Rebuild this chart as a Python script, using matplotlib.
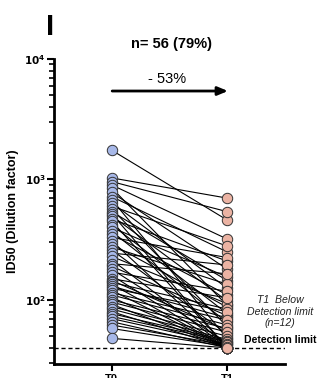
#!/usr/bin/env python3
import numpy as np
import matplotlib

matplotlib.use("Agg")
import matplotlib.pyplot as plt
from matplotlib.ticker import LogLocator, NullFormatter

plt.rcParams["font.family"] = ["Liberation Sans", "DejaVu Sans"]

# Valori ID50 per soggetto (T0 -> T1, accoppiati per indice)
t0_vals = [1750, 1030, 960, 900, 850, 780, 720, 680, 640, 600,
           570, 540, 520, 500, 470, 450, 420, 400, 370, 350,
           330, 310, 290, 275, 260, 245, 230, 215, 200, 190,
           180, 170, 160, 150, 145, 140, 135, 130, 125, 120,
           115, 110, 105, 100, 96, 92, 88, 84, 80, 77,
           73, 70, 66, 62, 58, 48]
t1_vals = [460, 700, 540, 320, 90, 180, 250, 48, 125, 280,
           60, 145, 40, 98, 210, 40, 77, 155, 65, 110,
           225, 40, 87, 135, 52, 195, 93, 40, 165, 74,
           44, 118, 40, 104, 56, 84, 40, 71, 80, 40,
           68, 62, 40, 58, 54, 40, 50, 47, 40, 46,
           45, 43, 40, 42, 41, 40]
time_labels = ["T0", "T1"]
detection_limit = 40
panel_label = "I"
n_text = "n= 56 (79%)"
change_text = "- 53%"
below_text = "T1  Below\nDetection limit\n(n=12)"

fig = plt.figure(figsize=(3.21, 3.78), dpi=100)
ax = fig.add_axes([0.168, 0.037, 0.72, 0.807])

# Linee di collegamento
for a, b in zip(t0_vals, t1_vals):
    ax.plot([0, 1], [a, b], color="black", lw=0.8, zorder=2)

ax.plot(np.zeros(len(t0_vals)), t0_vals, "o", ms=7.5, mfc="#a7b8e8",
        mec="#333333", mew=0.7, zorder=3, ls="none")
ax.plot(np.ones(len(t1_vals)), t1_vals, "o", ms=7.5, mfc="#ebb3a3",
        mec="#333333", mew=0.7, zorder=3, ls="none")

ax.axhline(detection_limit, color="black", ls=(0, (3, 2)), lw=1.0, zorder=1)

ax.set_yscale("log")
ax.set_ylim(29.4, 1e4)
ax.set_xlim(-0.5, 1.5)
ax.set_xticks([0, 1])
ax.set_xticklabels(time_labels, fontsize=8, fontweight="bold")
ax.yaxis.set_major_locator(LogLocator(base=10, numticks=10))
ax.yaxis.set_minor_locator(LogLocator(base=10, subs=np.arange(2, 10), numticks=10))
ax.yaxis.set_minor_formatter(NullFormatter())
ax.set_yticks([1e2, 1e3, 1e4])
ax.set_yticklabels([r"$\mathbf{10^2}$", r"$\mathbf{10^3}$", r"$\mathbf{10^4}$"], fontsize=7.5)
ax.tick_params(axis="y", which="major", length=5, width=1.5, pad=1)
ax.tick_params(axis="y", which="minor", length=3.5, width=1.2)
ax.tick_params(axis="x", length=5, width=1.5, pad=2)
for s in ("top", "right"):
    ax.spines[s].set_visible(False)
for s in ("left", "bottom"):
    ax.spines[s].set_linewidth(2)

ax.set_ylabel("ID50 (Dilution factor)", fontsize=9, fontweight="bold", labelpad=4)

# Annotazioni
fig.text(0.155, 0.928, panel_label, fontsize=21, fontweight="bold", ha="center", va="center")
fig.text(0.533, 0.884, n_text, fontsize=10.5, fontweight="bold", ha="center", va="center")
fig.text(0.522, 0.791, change_text, fontsize=10.5, ha="center", va="center")
ax.annotate("", xy=(1.03, 5420), xytext=(-0.02, 5420), xycoords=("data", "data"),
            arrowprops=dict(arrowstyle="-|>,head_length=0.6,head_width=0.25",
                            color="black", lw=2))
fig.text(0.872, 0.175, below_text, fontsize=7.6, style="italic", ha="center",
         va="center", color="#222222", linespacing=1.2)
fig.text(0.872, 0.101, "Detection limit", fontsize=7.6, fontweight="bold",
         ha="center", va="center")

fig.savefig("out.png", dpi=100)
